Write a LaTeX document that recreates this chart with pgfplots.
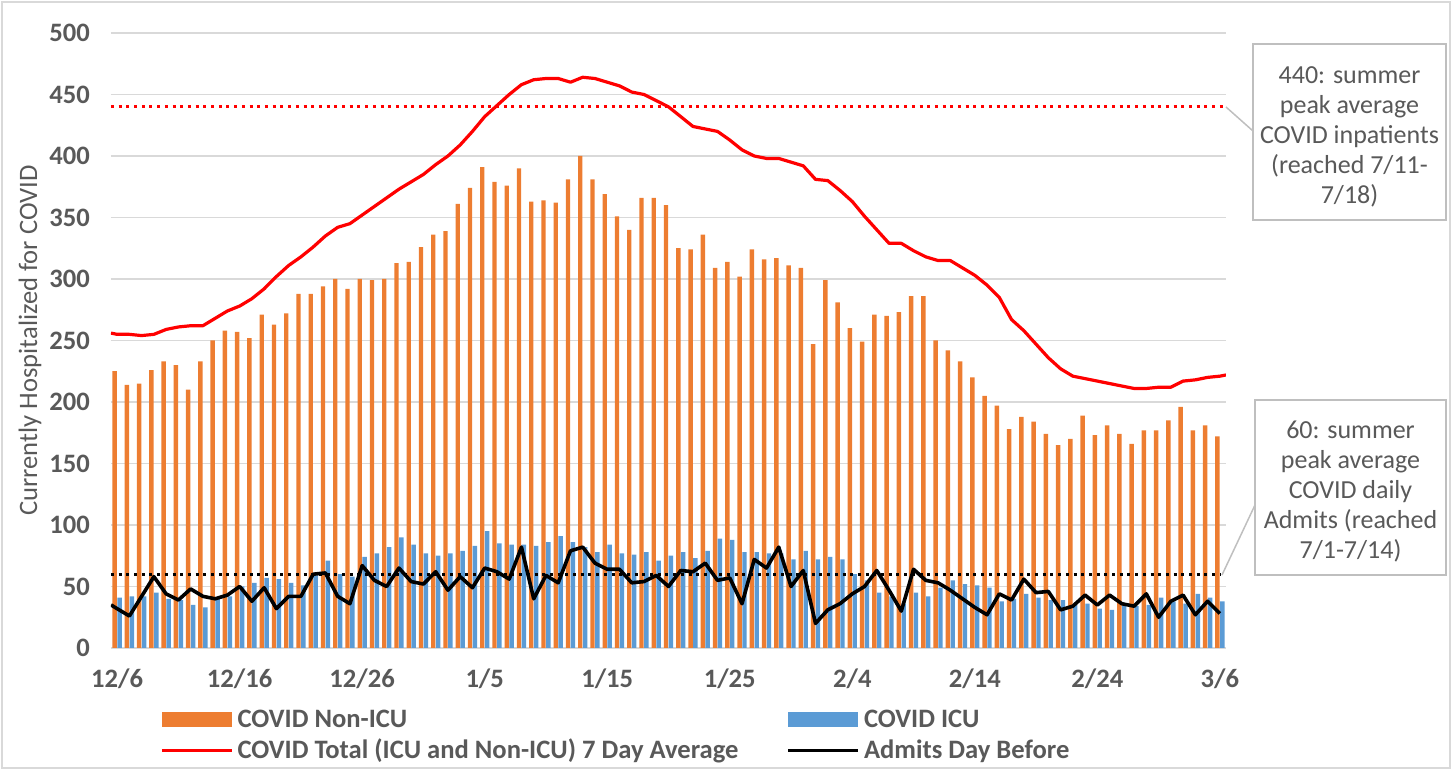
\documentclass[border=0pt]{standalone}
\usepackage{fontspec}
\setmainfont{Carlito}
\usepackage{pgfplots}
\usepackage{pgfplotstable}
\pgfplotsset{compat=1.18}

\definecolor{nonicu}{HTML}{ED7D31}
\definecolor{icu}{HTML}{5B9BD5}
\definecolor{txt}{HTML}{595959}
\definecolor{gridc}{HTML}{D9D9D9}
\definecolor{boxc}{HTML}{BFBFBF}

% day 0 = 12/6 ... day 90 = 3/6
\pgfplotstableread{
day nonicu icu
0 225 41
1 214 42
2 215 42
3 226 45
4 233 40
5 230 39
6 210 35
7 233 33
8 250 40
9 258 42
10 257 50
11 252 53
12 271 57
13 263 56
14 272 53
15 288 51
16 288 59
17 294 71
18 300 60
19 292 58
20 300 74
21 299 77
22 300 82
23 313 90
24 314 84
25 326 77
26 336 75
27 339 77
28 361 79
29 374 83
30 391 95
31 379 85
32 376 84
33 390 84
34 363 83
35 364 86
36 362 91
37 381 86
38 400 82
39 381 78
40 369 84
41 351 77
42 340 76
43 366 78
44 366 71
45 360 75
46 325 78
47 324 73
48 336 79
49 309 89
50 314 88
51 302 78
52 324 78
53 316 77
54 317 77
55 311 72
56 309 79
57 247 72
58 299 74
59 281 72
60 260 60
61 249 55
62 271 45
63 270 42
64 273 36
65 286 45
66 286 42
67 250 49
68 242 55
69 233 52
70 220 51
71 205 49
72 197 38
73 178 40
74 188 44
75 184 41
76 174 39
77 165 39
78 170 35
79 189 36
80 173 32
81 181 31
82 174 35
83 166 34
84 177 35
85 177 41
86 185 38
87 196 36
88 177 44
89 181 41
90 172 38
}\bars

\pgfplotstableread{
day admits
-0.5 35
0 32
1 26
2 42
3 58
4 44
5 39
6 48
7 42
8 40
9 43
10 50
11 38
12 49
13 32
14 42
15 42
16 60
17 61
18 42
19 36
20 67
21 55
22 50
23 65
24 54
25 52
26 62
27 47
28 58
29 49
30 65
31 62
32 56
33 82
34 40
35 59
36 53
37 79
38 82
39 69
40 64
41 64
42 53
43 54
44 59
45 50
46 63
47 62
48 69
49 55
50 57
51 36
52 72
53 65
54 82
55 50
56 63
57 20
58 31
59 36
60 44
61 50
62 63
63 47
64 30
65 64
66 55
67 53
68 47
69 40
70 33
71 27
72 44
73 39
74 56
75 45
76 46
77 31
78 34
79 43
80 35
81 43
82 36
83 34
84 44
85 25
86 38
87 43
88 27
89 38
90 28
}\admits

\pgfplotstableread{
day avg
-0.5 256
0 255
1 255
2 254
3 255
4 259
5 261
6 262
7 262
8 268
9 274
10 278
11 284
12 292
13 302
14 311
15 318
16 326
17 335
18 342
19 345
20 352
21 359
22 366
23 373
24 379
25 385
26 393
27 400
28 409
29 420
30 432
31 441
32 450
33 458
34 462
35 463
36 463
37 460
38 464
39 463
40 460
41 457
42 452
43 450
44 445
45 440
46 432
47 424
48 422
49 420
50 413
51 405
52 400
53 398
54 398
55 395
56 392
57 381
58 380
59 372
60 363
61 351
62 340
63 329
64 329
65 323
66 318
67 315
68 315
69 309
70 303
71 295
72 285
73 267
74 258
75 247
76 236
77 227
78 221
79 219
80 217
81 215
82 213
83 211
84 211
85 212
86 212
87 217
88 218
89 220
90 221
90.5 222
}\avg

\begin{document}
\begin{tikzpicture}[font=\fontsize{13.3}{16}\selectfont]
\useasboundingbox (0,0) rectangle (726pt,385pt);
\draw[gridc, line width=0.75pt] (1pt,1pt) rectangle (725pt,384pt);

\begin{axis}[
  at={(55.5pt,61pt)}, anchor=south west,
  scale only axis, width=557.5pt, height=307.5pt,
  xmin=-0.5, xmax=90.5, ymin=0, ymax=500,
  ytick distance=50,
  xtick={0,10,...,90},
  xticklabels={12/6,12/16,12/26,1/5,1/15,1/25,2/4,2/14,2/24,3/6},
  /pgf/number format/assume math mode=true,
  tick label style={font=\fontsize{13.3}{16}\selectfont\bfseries, text=txt},
  yticklabel style={xshift=-7pt},
  xticklabel style={yshift=-7pt},
  major tick length=0pt,
  axis x line*=bottom,
  axis y line*=left,
  x axis line style={gridc, line width=1pt},
  y axis line style={draw=none},
  ymajorgrids,
  grid style={gridc, line width=0.8pt},
  ylabel={Currently Hospitalized for COVID},
  ylabel style={at={(axis description cs:-0.0726,0.5)}, anchor=center, text=txt},
  legend columns=2,
  legend cell align=left,
  legend style={at={(0.0439,-0.093)}, anchor=north west, draw=none, fill=none,
    inner sep=0pt, row sep=0.5pt, text=txt,
    font=\fontsize{13.3}{16}\selectfont\bfseries,
    /tikz/every even column/.append style={column sep=22pt}},
]
\addplot[ybar, bar width=0.36, bar shift=-0.2, fill=nonicu, draw=none,
  legend image code/.code={\fill[nonicu] (0pt,-3.75pt) rectangle (35pt,3.75pt);}]
  table[x=day, y=nonicu] {\bars};
\addlegendentry{COVID Non-ICU}
\addplot[ybar, bar width=0.36, bar shift=0.2, fill=icu, draw=none,
  legend image code/.code={\fill[icu] (0pt,-3.75pt) rectangle (35pt,3.75pt);}]
  table[x=day, y=icu] {\bars};
\addlegendentry{COVID ICU}

% summer peak reference levels
\addplot[red, line width=1.5pt, dash pattern=on 1.5pt off 2.35pt, forget plot]
  coordinates {(-0.5,440) (90.5,440)};
\addplot[black, line width=1.5pt, dash pattern=on 1.5pt off 2.35pt, forget plot]
  coordinates {(-0.5,60) (90,60)};

\addplot[red, line width=1.6pt, line join=round,
  legend image code/.code={\draw[red, line width=1.6pt] (0pt,0pt) -- (35pt,0pt);}]
  table[x=day, y=avg] {\avg};
\addlegendentry{COVID Total (ICU and Non-ICU) 7 Day Average}
\addplot[black, line width=1.8pt, line join=round,
  legend image code/.code={\draw[black, line width=1.8pt] (0pt,0pt) -- (35pt,0pt);}]
  table[x=day, y=admits] {\admits};
\addlegendentry{Admits Day Before}
\end{axis}

% callouts
\draw[boxc, line width=0.75pt] (613pt,331.5pt) -- (626.5pt,319.5pt);
\draw[boxc, line width=0.75pt] (611pt,97.5pt) -- (627.5pt,132.5pt);
\draw[boxc, line width=0.9pt, fill=white] (626.5pt,275pt) rectangle (723pt,363pt);
\draw[boxc, line width=0.9pt, fill=white] (627.5pt,97.5pt) rectangle (723pt,185pt);
\node[text=txt, align=center, font=\fontsize{13}{15}\selectfont] at (674.75pt,316.5pt)
  {440: summer\\peak average\\COVID inpatients\\(reached 7/11-\\7/18)};
\node[text=txt, align=center, font=\fontsize{13}{15}\selectfont] at (675.25pt,139pt)
  {60: summer\\peak average\\COVID daily\\Admits (reached\\7/1-7/14)};
\end{tikzpicture}
\end{document}
